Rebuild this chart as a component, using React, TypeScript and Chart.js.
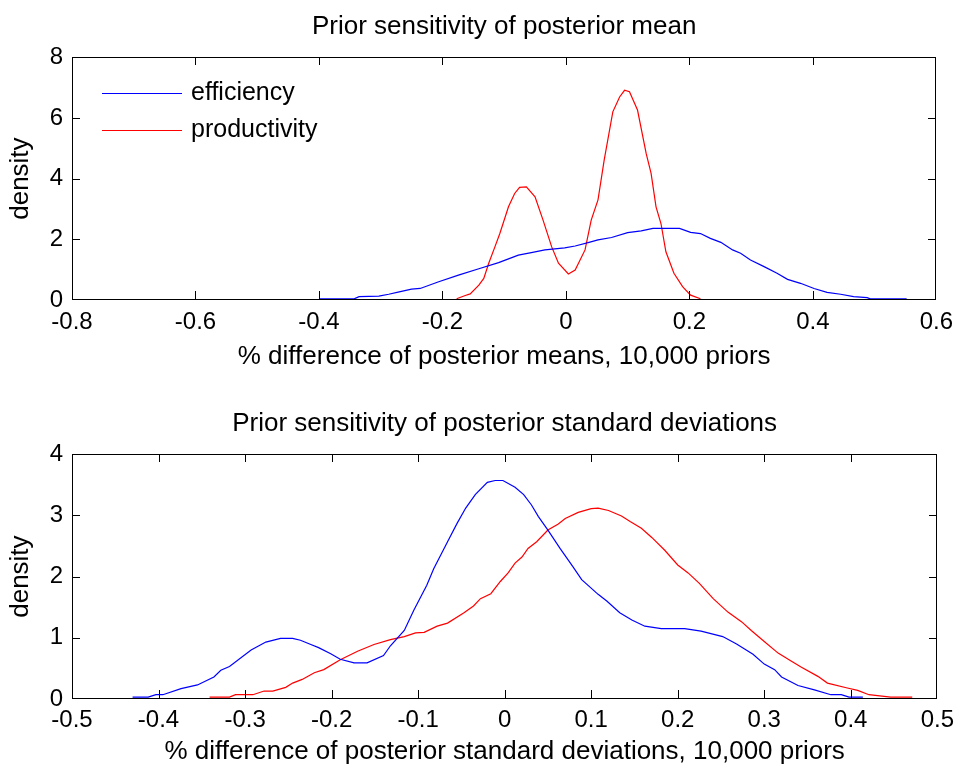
import React, { useEffect, useRef } from "react";
import { Chart, registerables } from "chart.js";

Chart.register(...registerables);

// ---------- Data ----------
const seriesNames = ["efficiency", "productivity"];

// Top panel: posterior means
const meanEffX = [-0.40, -0.343, -0.335, -0.303, -0.287, -0.27, -0.25, -0.236, -0.206, -0.174, -0.141, -0.109, -0.077, -0.056, -0.034, -0.002, 0.015, 0.036, 0.052, 0.074, 0.10, 0.122, 0.141, 0.184, 0.202, 0.218, 0.234, 0.251, 0.27, 0.283, 0.299, 0.321, 0.342, 0.359, 0.38, 0.402, 0.423, 0.445, 0.466, 0.488, 0.493, 0.552];
const meanEffY = [0.04, 0.04, 0.11, 0.13, 0.19, 0.27, 0.36, 0.38, 0.60, 0.82, 1.03, 1.23, 1.48, 1.56, 1.65, 1.72, 1.78, 1.89, 1.98, 2.06, 2.22, 2.28, 2.36, 2.36, 2.23, 2.19, 2.03, 1.90, 1.65, 1.54, 1.32, 1.10, 0.88, 0.68, 0.55, 0.38, 0.25, 0.19, 0.11, 0.08, 0.04, 0.04];

const meanProdX = [-0.177, -0.163, -0.155, -0.141, -0.133, -0.125, -0.115, -0.107, -0.093, -0.083, -0.075, -0.064, -0.05, -0.037, -0.023, -0.012, 0.004, 0.015, 0.031, 0.041, 0.052, 0.062, 0.076, 0.087, 0.095, 0.103, 0.116, 0.13, 0.138, 0.146, 0.154, 0.162, 0.175, 0.189, 0.202, 0.218];
const meanProdY = [0.04, 0.15, 0.20, 0.49, 0.71, 1.21, 1.75, 2.19, 3.07, 3.51, 3.71, 3.73, 3.40, 2.63, 1.75, 1.21, 0.86, 0.99, 1.65, 2.63, 3.30, 4.61, 6.20, 6.69, 6.91, 6.86, 6.26, 4.83, 4.17, 3.07, 2.52, 1.59, 0.88, 0.44, 0.16, 0.04];

// Bottom panel: posterior standard deviations
const sdEffX = [-0.43, -0.412, -0.403, -0.395, -0.374, -0.355, -0.336, -0.328, -0.318, -0.293, -0.276, -0.259, -0.245, -0.236, -0.224, -0.215, -0.201, -0.19, -0.174, -0.159, -0.14, -0.132, -0.116, -0.105, -0.09, -0.082, -0.066, -0.055, -0.045, -0.034, -0.02, -0.011, -0.002, 0.012, 0.022, 0.031, 0.039, 0.05, 0.064, 0.079, 0.089, 0.108, 0.118, 0.133, 0.147, 0.162, 0.181, 0.208, 0.227, 0.252, 0.268, 0.287, 0.30, 0.312, 0.32, 0.339, 0.358, 0.377, 0.389, 0.398, 0.414];
const sdEffY = [0.03, 0.03, 0.07, 0.07, 0.17, 0.23, 0.36, 0.47, 0.53, 0.80, 0.93, 0.99, 0.99, 0.96, 0.89, 0.84, 0.74, 0.65, 0.59, 0.59, 0.71, 0.87, 1.12, 1.45, 1.86, 2.13, 2.57, 2.87, 3.12, 3.34, 3.54, 3.57, 3.57, 3.46, 3.34, 3.17, 2.98, 2.76, 2.46, 2.16, 1.95, 1.71, 1.60, 1.41, 1.29, 1.19, 1.15, 1.15, 1.11, 1.02, 0.90, 0.73, 0.57, 0.48, 0.36, 0.22, 0.15, 0.07, 0.07, 0.03, 0.03];

const sdProdX = [-0.341, -0.318, -0.311, -0.291, -0.278, -0.268, -0.253, -0.245, -0.234, -0.22, -0.209, -0.19, -0.17, -0.151, -0.132, -0.116, -0.103, -0.093, -0.078, -0.066, -0.047, -0.036, -0.028, -0.016, -0.005, 0.004, 0.012, 0.020, 0.027, 0.037, 0.05, 0.062, 0.07, 0.085, 0.10, 0.108, 0.12, 0.135, 0.145, 0.158, 0.17, 0.185, 0.20, 0.212, 0.225, 0.241, 0.258, 0.274, 0.285, 0.30, 0.316, 0.331, 0.343, 0.362, 0.373, 0.396, 0.408, 0.421, 0.446, 0.471];
const sdProdY = [0.03, 0.03, 0.07, 0.07, 0.13, 0.13, 0.19, 0.26, 0.32, 0.43, 0.48, 0.64, 0.78, 0.89, 0.97, 1.02, 1.08, 1.09, 1.19, 1.24, 1.41, 1.52, 1.64, 1.72, 1.92, 2.06, 2.22, 2.32, 2.46, 2.57, 2.76, 2.86, 2.95, 3.05, 3.11, 3.12, 3.08, 2.99, 2.90, 2.79, 2.64, 2.43, 2.19, 2.06, 1.89, 1.64, 1.42, 1.26, 1.12, 0.94, 0.75, 0.62, 0.52, 0.37, 0.26, 0.18, 0.14, 0.07, 0.03, 0.03];

// Axis settings
const topXTicks = { min: -0.8, max: 0.6, step: 0.2 };
const topYTicks = { min: 0, max: 8, step: 2 };
const botXTicks = { min: -0.5, max: 0.5, step: 0.1 };
const botYTicks = { min: 0, max: 4, step: 1 };

const topTitle = "Prior sensitivity of posterior mean";
const topXLabel = "% difference of posterior means, 10,000 priors";
const botTitle = "Prior sensitivity of posterior standard deviations";
const botXLabel = "% difference of posterior standard deviations, 10,000 priors";
const yLabel = "density";

// ---------- Styling ----------
const FONT = "'Liberation Sans', Arial, Helvetica, sans-serif";
const BLUE = "#0000ff";
const RED = "#ff0000";

const zip = (xs: number[], ys: number[]) => xs.map((x, i) => ({ x, y: ys[i] }));
const fmt = (v: number) => {
  const r = Math.round(v * 10) / 10;
  return (Object.is(r, -0) ? 0 : r).toString();
};

const framePlugin = {
  id: "matlabFrame",
  afterDraw(chart: any, _args: any, opts: any) {
    const { ctx, chartArea, scales } = chart;
    const L = Math.round(chartArea.left);
    const R = Math.round(chartArea.right) - 1;
    const T = Math.round(chartArea.top);
    const B = Math.round(chartArea.bottom) - 1;
    const tl = 8;
    ctx.save();
    ctx.fillStyle = "#000";
    // box
    ctx.fillRect(L, T, R - L + 1, 1);
    ctx.fillRect(L, B, R - L + 1, 1);
    ctx.fillRect(L, T, 1, B - T + 1);
    ctx.fillRect(R, T, 1, B - T + 1);
    // inward ticks
    scales.x.ticks.forEach((t: any) => {
      const px = Math.round(scales.x.getPixelForValue(t.value));
      const x = Math.min(Math.max(px, L), R);
      ctx.fillRect(x, B - tl, 1, tl);
      ctx.fillRect(x, T, 1, tl);
    });
    scales.y.ticks.forEach((t: any) => {
      const py = Math.round(scales.y.getPixelForValue(t.value));
      const y = Math.min(Math.max(py, T), B);
      ctx.fillRect(L, y, tl, 1);
      ctx.fillRect(R - tl + 1, y, tl, 1);
    });

    if (opts && opts.legend) {
      const x0 = chartArea.left + 30;
      const lineLen = 80;
      const y0 = chartArea.top + 36;
      const gap = 37;
      ctx.font = `25px ${FONT}`;
      ctx.textBaseline = "middle";
      ctx.textAlign = "left";
      chart.data.datasets.forEach((ds: any, i: number) => {
        const y = Math.round(y0 + i * gap) + 0.5;
        ctx.strokeStyle = ds.borderColor;
        ctx.lineWidth = 1.2;
        ctx.beginPath();
        ctx.moveTo(x0, y);
        ctx.lineTo(x0 + lineLen, y);
        ctx.stroke();
        ctx.fillStyle = "#000";
        ctx.fillText(ds.label, x0 + lineLen + 9, y);
      });
    }
    ctx.restore();
  },
};

function makeConfig(p: {
  effX: number[]; effY: number[]; prodX: number[]; prodY: number[];
  xt: { min: number; max: number; step: number };
  yt: { min: number; max: number; step: number };
  title: string; xLabel: string; legend: boolean;
  titlePad: { top: number; bottom: number };
  xAxisH: number; xTickPad: number; xTitlePadBottom: number;
}) {
  return {
    type: "line" as const,
    data: {
      datasets: [
        { label: seriesNames[0], data: zip(p.effX, p.effY), borderColor: BLUE, backgroundColor: BLUE, borderWidth: 1.2, pointRadius: 0, tension: 0, fill: false },
        { label: seriesNames[1], data: zip(p.prodX, p.prodY), borderColor: RED, backgroundColor: RED, borderWidth: 1.2, pointRadius: 0, tension: 0, fill: false },
      ],
    },
    options: {
      responsive: false,
      animation: false as const,
      events: [],
      layout: { padding: { left: 0, right: 22, top: 0, bottom: 0 } },
      plugins: {
        legend: { display: false },
        tooltip: { enabled: false },
        title: {
          display: true,
          text: p.title,
          fullSize: false,
          color: "#000",
          font: { family: FONT, size: 26, weight: "normal" as const, lineHeight: 1.2 },
          padding: p.titlePad,
        },
        matlabFrame: { legend: p.legend },
      },
      scales: {
        x: {
          type: "linear" as const,
          min: p.xt.min,
          max: p.xt.max,
          afterFit: (s: any) => { s.height = p.xAxisH; },
          ticks: {
            stepSize: p.xt.step,
            color: "#000",
            padding: p.xTickPad,
            maxRotation: 0,
            autoSkip: false,
            font: { family: FONT, size: 24, lineHeight: 1.2 },
            callback: (v: any) => fmt(Number(v)),
          },
          grid: { display: false, drawTicks: false },
          border: { display: false },
          title: {
            display: true,
            text: p.xLabel,
            color: "#000",
            font: { family: FONT, size: 26, lineHeight: 1.2 },
            padding: { top: 0, bottom: p.xTitlePadBottom },
          },
        },
        y: {
          type: "linear" as const,
          min: p.yt.min,
          max: p.yt.max,
          afterFit: (s: any) => { s.width = 72; },
          ticks: {
            stepSize: p.yt.step,
            color: "#000",
            padding: 9,
            font: { family: FONT, size: 24, lineHeight: 1.2 },
            callback: (v: any) => fmt(Number(v)),
          },
          grid: { display: false, drawTicks: false },
          border: { display: false },
          title: {
            display: true,
            text: yLabel,
            color: "#000",
            font: { family: FONT, size: 26, lineHeight: 1.2 },
            padding: { top: 5, bottom: 0 },
          },
        },
      },
    },
    plugins: [framePlugin],
  };
}

export default function App() {
  const topRef = useRef<HTMLCanvasElement>(null);
  const botRef = useRef<HTMLCanvasElement>(null);

  useEffect(() => {
    const c1 = new Chart(topRef.current as HTMLCanvasElement, makeConfig({
      effX: meanEffX, effY: meanEffY, prodX: meanProdX, prodY: meanProdY,
      xt: topXTicks, yt: topYTicks, title: topTitle, xLabel: topXLabel, legend: true,
      titlePad: { top: 11, bottom: 15 }, xAxisH: 83, xTickPad: 8, xTitlePadBottom: 11,
    }) as any);
    const c2 = new Chart(botRef.current as HTMLCanvasElement, makeConfig({
      effX: sdEffX, effY: sdEffY, prodX: sdProdX, prodY: sdProdY,
      xt: botXTicks, yt: botYTicks, title: botTitle, xLabel: botXLabel, legend: false,
      titlePad: { top: 25, bottom: 15 }, xAxisH: 68, xTickPad: 7, xTitlePadBottom: 0,
    }) as any);
    return () => { c1.destroy(); c2.destroy(); };
  }, []);

  return (
    <div style={{ position: "absolute", left: 0, top: 0, width: 961, height: 767, background: "#fff" }}>
      <canvas ref={topRef} width={961} height={383} style={{ display: "block", width: 961, height: 383 }} />
      <canvas ref={botRef} width={961} height={384} style={{ display: "block", width: 961, height: 384 }} />
    </div>
  );
}
